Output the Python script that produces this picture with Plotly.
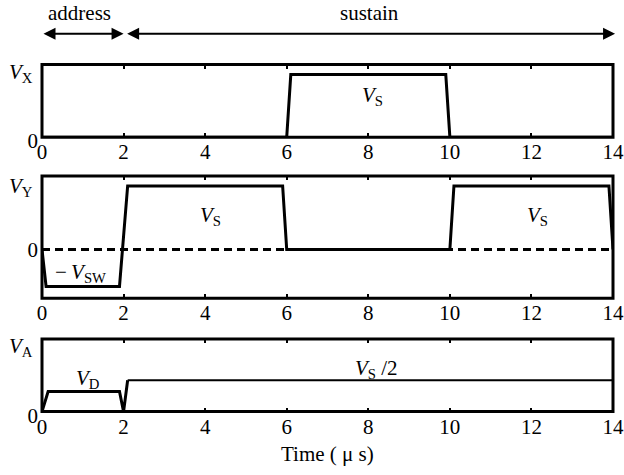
import plotly.graph_objects as go

# Drive waveforms, normalised so that the sustain voltage V_S = 1
t_x = [0, 6.0, 6.1, 9.9, 10.0, 14]
v_x = [0, 0, 1, 1, 0, 0]

t_y = [0, 0.1, 1.9, 2.1, 5.9, 6.0, 10.0, 10.1, 13.9, 14.0]
v_y = [0, -0.58, -0.58, 1, 1, 0, 0, 1, 1, 0]

t_a1 = [0, 0.15, 1.9, 2.0, 2.1]
v_a1 = [0, 0.32, 0.32, 0, 0.5]
t_a2 = [2.1, 14]
v_a2 = [0.5, 0.5]

x_ticks = [0, 2, 4, 6, 8, 10, 12, 14]

FONT = "Liberation Serif, Times New Roman, Times, serif"
W, H = 624, 475
ML, MR = 42, 11
PW = W - ML - MR
K = 0.972  # vertical layout scale of the viewer


def py(p):
    """Paper y fraction for a pixel row measured from the top."""
    return 1 - (p / K) / H


def pdom(top_px, bot_px):
    return [py(bot_px), py(top_px)]


fig = go.Figure()
line = dict(color="black", width=3)

fig.add_trace(go.Scatter(x=t_x, y=v_x, mode="lines", line=line, xaxis="x", yaxis="y"))
fig.add_trace(go.Scatter(x=[0, 14], y=[0, 0], mode="lines",
                         line=dict(color="black", width=3, dash="8px,5px"),
                         xaxis="x2", yaxis="y2"))
fig.add_trace(go.Scatter(x=t_y, y=v_y, mode="lines", line=line, xaxis="x2", yaxis="y2"))
fig.add_trace(go.Scatter(x=t_a1, y=v_a1, mode="lines", line=line, xaxis="x3", yaxis="y3"))
fig.add_trace(go.Scatter(x=t_a2, y=v_a2, mode="lines", line=dict(color="black", width=2.2),
                         xaxis="x3", yaxis="y3"))

xcommon = dict(range=[0, 14], tickvals=x_ticks, ticks="inside", ticklen=4, tickwidth=2,
               tickcolor="black", showline=False, mirror="ticks",
               showgrid=False, zeroline=False,
               tickfont=dict(family=FONT, size=21, color="black"))
ycommon = dict(tickvals=[0], ticktext=["0"], ticks="", showline=False,
               showgrid=False, zeroline=False, ticklabelstandoff=3,
               tickfont=dict(family=FONT, size=21, color="black"))

fig.update_layout(
    width=W, height=H, autosize=False,
    margin=dict(l=ML, r=MR, t=0, b=0, pad=0),
    paper_bgcolor="white", plot_bgcolor="white",
    showlegend=False,
    xaxis=dict(**xcommon, domain=[0, 1], anchor="y"),
    yaxis=dict(**ycommon, range=[0, 1.159], domain=pdom(65, 138), anchor="x",
               ticklabelshift=3),
    xaxis2=dict(**xcommon, domain=[0, 1], anchor="y2"),
    yaxis2=dict(**ycommon, range=[-0.766, 1.156], domain=pdom(177, 300), anchor="x2"),
    xaxis3=dict(**xcommon, domain=[0, 1], anchor="y3"),
    yaxis3=dict(**ycommon, range=[0, 1.159], domain=pdom(341, 414), anchor="x3",
                ticklabelshift=4),
)

# panel frames, centred on the plot-area edges
shapes = []
for xa, ya in [("x", "y"), ("x2", "y2"), ("x3", "y3")]:
    shapes.append(dict(type="rect", xref=f"{xa} domain", yref=f"{ya} domain",
                       x0=0, x1=1, y0=0, y1=1, layer="above",
                       line=dict(color="black", width=3)))
fig.update_layout(shapes=shapes)

f = dict(family=FONT, size=21, color="black")
ann = []


def label(x, y, text, xref, yref):
    ann.append(dict(x=x, y=y, xref=xref, yref=yref, text=text, showarrow=False, font=f,
                    xanchor="center", yanchor="middle"))


# signal names on the left, placed in the margin
xl = -21 / PW
label(xl, 1.03, "<i>V</i><sub>X</sub>", "paper", "y")
label(xl, 0.98, "<i>V</i><sub>Y</sub>", "paper", "y2")
label(xl, 1.03, "<i>V</i><sub>A</sub>", "paper", "y3")

# level labels
label(8.1, 0.66, "<i>V</i><sub>S</sub>", "x", "y")
label(4.12, 0.52, "<i>V</i><sub>S</sub>", "x2", "y2")
label(12.16, 0.52, "<i>V</i><sub>S</sub>", "x2", "y2")
label(0.95, -0.37, "\u2212\u2009<i>V</i><sub>SW</sub>", "x2", "y2")
label(1.13, 0.52, "<i>V</i><sub>D</sub>", "x3", "y3")
label(8.2, 0.68, "<i>V</i><sub>S</sub> /2", "x3", "y3")

# period names and spans
label(0.93, py(13), "address", "x", "paper")
label(8.04, py(13), "sustain", "x", "paper")
for a, b in [(0, 2.0), (2.05, 14.05)]:
    ann.append(dict(x=b, y=py(34), xref="x", yref="paper", ax=a, ay=0,
                    axref="x", ayref="pixel", text="", showarrow=True,
                    arrowside="end+start", arrowhead=2, arrowsize=1.2,
                    arrowwidth=2, arrowcolor="black"))

# x-axis title
label(0.5, py(457), "Time ( \u03bc s)", "paper", "paper")

fig.update_layout(annotations=ann)
fig.write_html("out.html", config={"responsive": False})
